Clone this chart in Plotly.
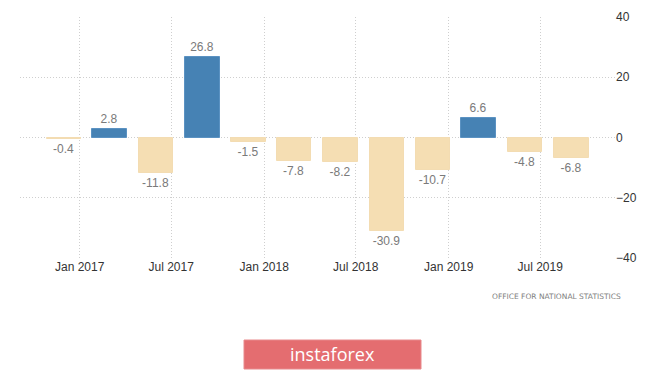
import plotly.graph_objects as go

# Data
dates = ["2016-12-01", "2017-03-01", "2017-06-01", "2017-09-01", "2017-12-01", "2018-03-01",
         "2018-06-01", "2018-09-01", "2018-12-01", "2019-03-01", "2019-06-01", "2019-09-01"]
values = [-0.4, 2.8, -11.8, 26.8, -1.5, -7.8, -8.2, -30.9, -10.7, 6.6, -4.8, -6.8]
tick_dates = ["2017-01-01", "2017-07-01", "2018-01-01", "2018-07-01", "2019-01-01", "2019-07-01"]
tick_labels = ["Jan 2017", "Jul 2017", "Jan 2018", "Jul 2018", "Jan 2019", "Jul 2019"]
y_ticks = [-40, -20, 0, 20, 40]
source_text = "OFFICE FOR NATIONAL STATISTICS"
brand_text = "instaforex"

POS = "#4682b4"
NEG = "#f5deb3"
colors = [POS if v >= 0 else NEG for v in values]
line_colors = ["#5b92c2" if v >= 0 else "#f3dcb2" for v in values]

# page has an 8px body margin; compensate so the figure lands like the reference
OFF = 8
W, H = 665 - OFF, 371 - OFF
L, R, T, B = 20 - OFF, 50, 17 - OFF, 113
pw, ph = W - L - R, H - T - B

def px_x(x):
    return (x - OFF - L) / pw

def px_y(y):
    return (H - B - (y - OFF)) / ph

fig = go.Figure()
fig.add_trace(go.Bar(
    x=dates, y=values,
    marker=dict(color=colors, line=dict(color=line_colors, width=1)),
    width=69 * 86400000,
    text=[f"{v:.1f}" for v in values],
    textposition="outside",
    textfont=dict(color="#7a7a7a", size=12, family="Liberation Sans, Arial"),
    cliponaxis=False,
    hoverinfo="skip",
))

fig.update_layout(
    width=W, height=H,
    margin=dict(l=L, r=R, t=T, b=B),
    paper_bgcolor="white", plot_bgcolor="white",
    showlegend=False,
    bargap=0,
    xaxis=dict(
        type="date",
        range=["2016-09-05", "2019-11-26"],
        tickvals=tick_dates, ticktext=tick_labels,
        showgrid=True, gridcolor="#cfcfcf", griddash="1px,2px", gridwidth=1,
        showline=False, zeroline=False, ticks="",
        tickfont=dict(color="#333333", size=12, family="Liberation Sans, Arial"),
        fixedrange=True, automargin=False,
    ),
    yaxis=dict(
        side="right",
        range=[-40, 40],
        tickvals=y_ticks,
        showgrid=True, gridcolor="#cfcfcf", griddash="1px,2px", gridwidth=1,
        zeroline=False, showline=False, ticks="",
        tickfont=dict(color="#333333", size=12, family="Liberation Sans, Arial"),
        fixedrange=True, automargin=False,
    ),
    shapes=[dict(
        type="rect", xref="paper", yref="paper",
        x0=px_x(244), x1=px_x(421), y0=px_y(369), y1=px_y(340),
        fillcolor="#e46d70", line=dict(color="#e88a8c", width=1),
        layer="above",
    )],
    annotations=[
        dict(text=source_text, xref="paper", yref="paper",
             x=px_x(623), y=px_y(296), xanchor="right", yanchor="middle",
             showarrow=False, font=dict(size=7.5, color="#808080", family="DejaVu Sans")),
        dict(text=brand_text, xref="paper", yref="paper",
             x=px_x(332), y=px_y(354), xanchor="center", yanchor="middle",
             showarrow=False, font=dict(size=18, color="white", family="Open Sans")),
    ],
)

fig.write_html("out.html")
